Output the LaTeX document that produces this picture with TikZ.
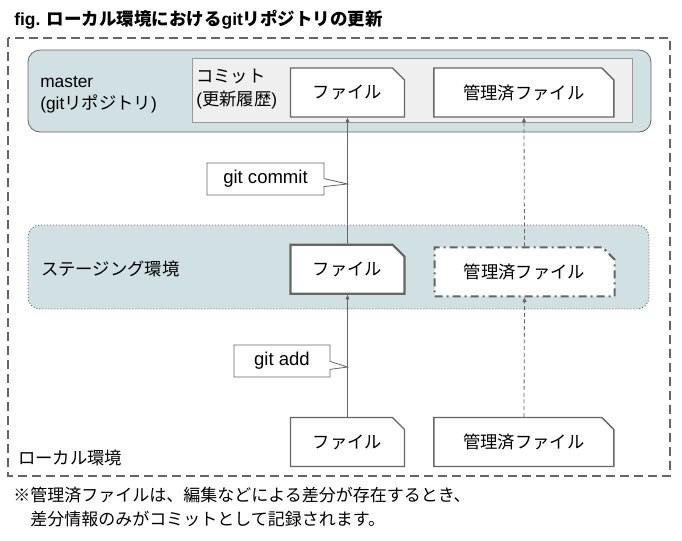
\documentclass[tikz,border=0pt]{standalone}
\usepackage{fontspec}
\setmainfont{Liberation Sans}
\newfontfamily\jp{Noto Sans CJK JP}
\usetikzlibrary{positioning,shapes.misc,shapes.callouts,arrows.meta}
\definecolor{repofill}{HTML}{D0E0E3}
\definecolor{linegray}{HTML}{666666}
\definecolor{histfill}{HTML}{EFEFEF}
\definecolor{histline}{HTML}{999999}
\tikzset{
  file/.style={chamfered rectangle, chamfered rectangle corners=north east, chamfered rectangle sep=4.5pt, draw=linegray, line width=1pt, fill=white, minimum height=36.75pt, inner sep=0pt, font=\jp\fontsize{13}{15}\selectfont},
  plain/.style={file, minimum width=85.5pt},
  managed/.style={file, minimum width=135pt},
  push/.style={draw=linegray, line width=.6pt, -{Triangle[length=3.5pt,width=3pt]}},
  diff/.style={push, dash pattern=on 3pt off 2pt},
  cmd/.style={rectangle callout, draw=linegray, fill=white, line width=.6pt, minimum height=24pt, inner sep=0pt, callout pointer width=6pt, font=\fontsize{13.9}{16}\selectfont},
  label/.style={anchor=west, align=left, inner sep=0pt, font=\fontsize{13}{16.5}\selectfont},
  jplabel/.style={label, font=\jp\fontsize{13}{17}\selectfont}
}
\begin{document}
\begin{tikzpicture}[x=0.75pt,y=-0.75pt]
\useasboundingbox (0,0) rectangle (682,540);
\node[label, font=\bfseries\fontsize{13.1}{16}\selectfont] (title) at (14,20) {fig. {\jp ローカル環境における}git{\jp リポジトリの更新}};
\draw[linegray, line width=1.1pt, dash pattern=on 6.75pt off 3.75pt] (8,38) rectangle (670,476);
\draw[linegray, line width=.6pt, fill=repofill, rounded corners=9pt] (28,50) rectangle (651,132);
\draw[histline, line width=.6pt, fill=histfill] (192,58) rectangle (632,122);
\draw[linegray, line width=.7pt, fill=repofill, rounded corners=9pt, dash pattern=on .75pt off 1.5pt] (28,225) rectangle (649,309);

\node[label] (repo) at (40,95) {master\\(git{\jp リポジトリ})};
\node[label, font=\fontsize{13}{17.25}\selectfont] (hist) at (196,89.5) {{\jp コミット}\\({\jp 更新履歴})};
\node[jplabel] (stage) at (41,269) {ステージング環境};
\node[jplabel] (local) at (18,458) {ローカル環境};

\node[plain] (cfile) at (347.5,92.5) {ファイル};
\node[managed, right=21pt of cfile] (cman) {管理済ファイル};
\node[plain, line width=1.6pt, below=94.5pt of cfile] (sfile) {ファイル};
\node[managed, line width=1.6pt, dash pattern=on 6pt off 3pt on 1.5pt off 3pt, right=21pt of sfile, yshift=-2pt] (sman) {管理済ファイル};
\node[plain, below=91.5pt of sfile] (bfile) {ファイル};
\node[managed, right=21pt of bfile] (bman) {管理済ファイル};

\draw[push] (sfile) -- (cfile);
\draw[push] (bfile) -- (sfile);
\draw[diff] (sman) -- (cman);
\draw[diff] (bman) -- (sman);

\coordinate (ctip) at (347.5,184);
\coordinate (atip) at (347.5,367);
\node[cmd, minimum width=87.75pt, callout absolute pointer=(ctip)] (commit) at (265.5,179) {git commit};
\node[cmd, minimum width=72pt, callout absolute pointer=(atip)] (add) at (282,361) {git add};

\node[jplabel, font=\jp\fontsize{12.75}{18}\selectfont] (note) at (13,507) {※管理済ファイルは、編集などによる差分が存在するとき、\\　差分情報のみがコミットとして記録されます。};
\end{tikzpicture}
\end{document}
